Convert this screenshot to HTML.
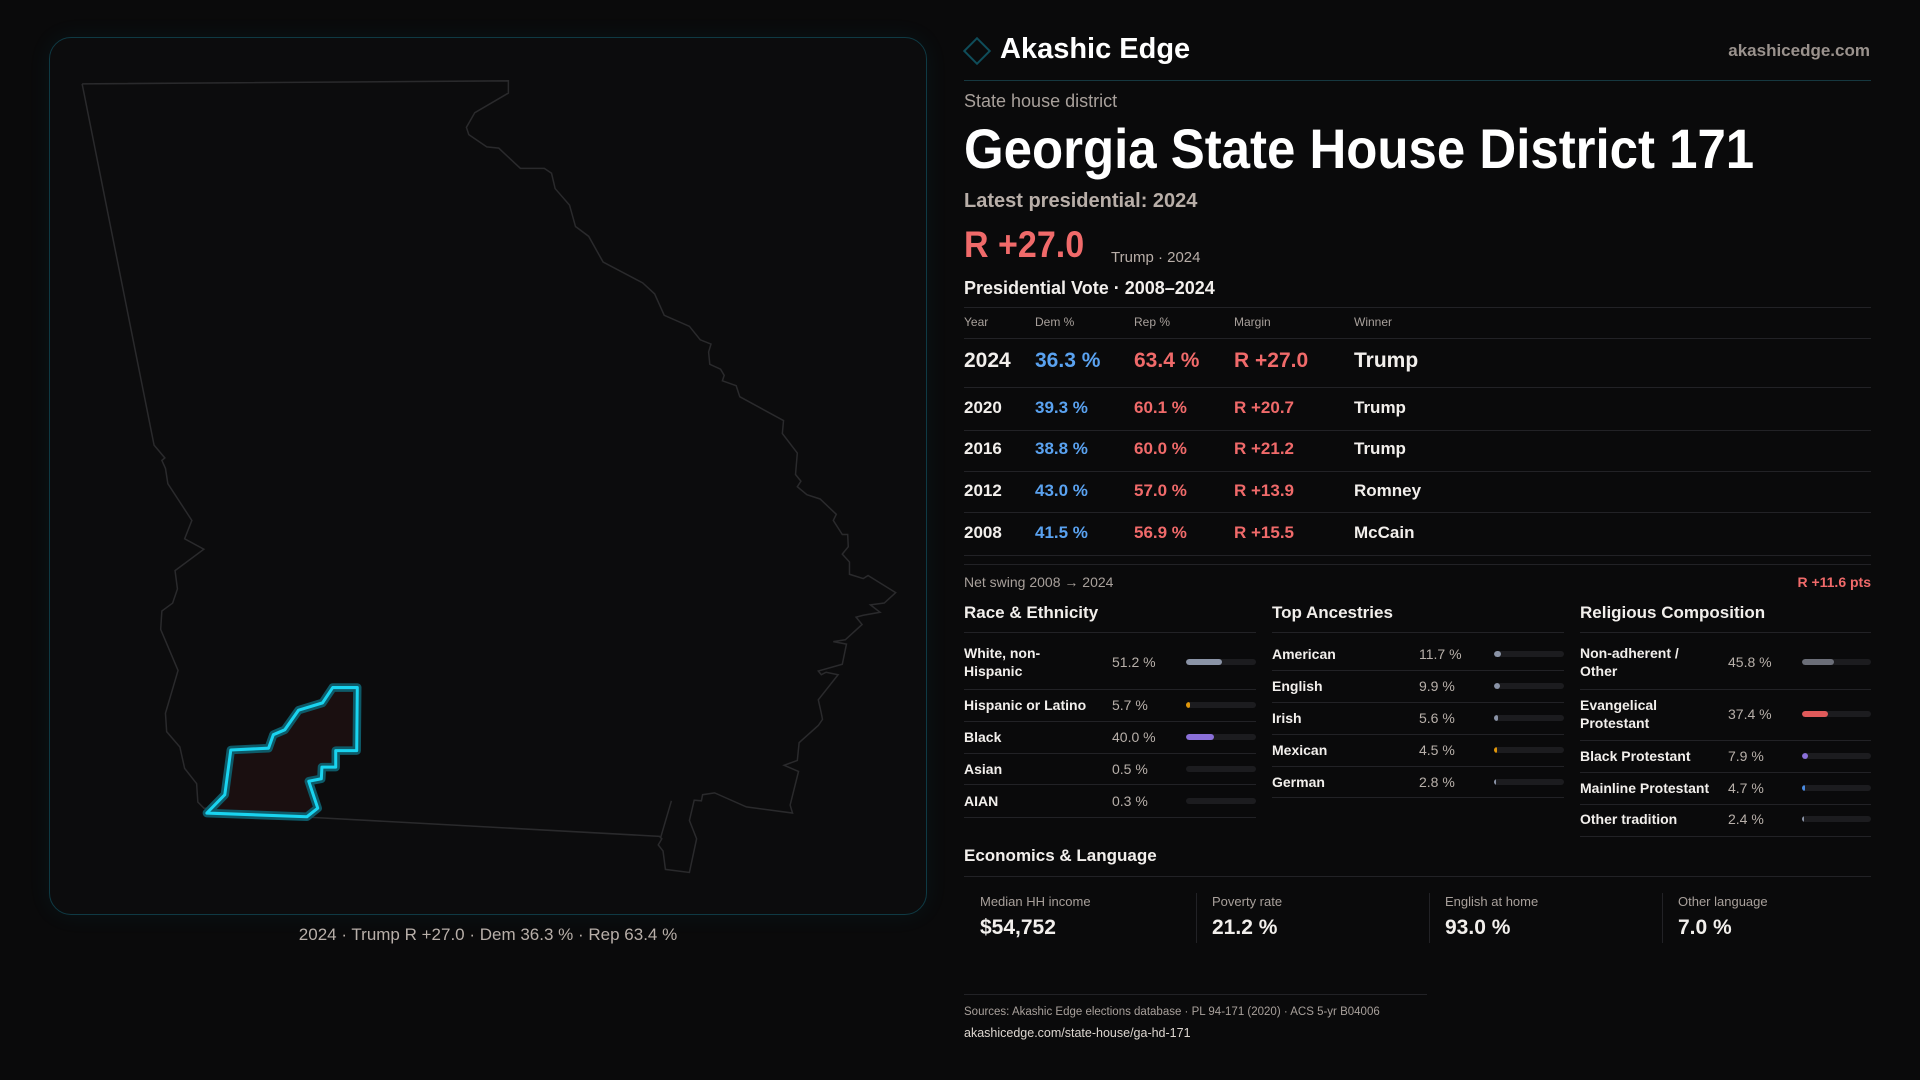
<!DOCTYPE html>
<html><head><meta charset="utf-8"><style>
*{margin:0;padding:0;box-sizing:border-box}
body{width:1920px;height:1080px;background:#0a0a0b;font-family:"Liberation Sans",sans-serif;color:#f2efec;position:relative;overflow:hidden}
.a{position:absolute;white-space:nowrap}
.panel{position:absolute;left:49px;top:37px;width:878px;height:878px;border:1px solid #0f3a44;border-radius:22px;background:#0c0c0d;box-shadow:0 0 24px rgba(0,170,200,0.07)}
.hl{position:absolute;height:1px;background:#222226}
.g{color:#a8a09b}
.r{color:#f06a6a}.b{color:#5aa2f0}
.row{font-size:17px;font-weight:bold;transform:translateY(-50%)}
.lab{font-size:14px;font-weight:bold;line-height:18px;transform:translateY(-50%)}
.val{font-size:14px;color:#b8b0aa;transform:translateY(-50%)}
.trk{position:absolute;height:6px;border-radius:3px;background:#1c1c1f;overflow:hidden}
.trk i{display:block;height:6px;border-radius:3px}
</style></head><body>
<div class="panel"></div>
<svg class="a" style="left:0;top:0" width="940" height="960" viewBox="0 0 1568 1568" preserveAspectRatio="none">
<polyline fill="none" stroke="#2a2a2c" stroke-width="2.5" points="137,137 848,132 848,152 792,184 778,208 782,220 812,240 832,242 868,275 908,275 920,283 926,308 950,335 960,370 982,386 1006,428 1072,462 1092,480 1108,515 1150,533 1168,555 1186,562 1182,575 1184,595 1202,603 1208,613 1205,622 1228,630 1234,648 1307,687 1305,708 1330,740 1327,775 1336,786 1330,795 1346,808 1368,815 1395,840 1390,850 1405,873 1414,873 1415,893 1405,905 1417,918 1417,938 1440,945 1448,940 1494,968 1475,985 1452,988 1468,1000 1440,1005 1428,1008 1438,1020 1410,1045 1390,1048 1412,1052 1405,1085 1365,1096 1370,1102 1378,1098 1398,1102 1365,1143 1370,1165 1372,1175 1365,1185 1333,1213 1330,1242 1308,1250 1332,1260 1318,1315 1322,1328 1245,1318 1192,1295 1172,1298 1170,1308 1158,1307 1150,1340 1162,1370 1150,1425 1110,1420 1106,1390 1098,1380 1104,1370 1100,1366 520,1335 340,1320 330,1310 328,1280 308,1255 300,1220 278,1195 276,1165 297,1095 268,1028 270,998 288,985 296,962 292,932 340,897 308,880 320,850 280,790 276,765 270,752 275,748 257,727 137,137"/>
<line x1="1120" y1="1308" x2="1102" y2="1368" stroke="#2a2a2c" stroke-width="2.5"/>
<polygon fill="#1a0f10" stroke="#0e5a68" stroke-width="14" stroke-linejoin="round" points="555,1123 596,1123 595,1226 560,1226 560,1253 537,1253 536,1272 515,1276 530,1320 512,1334 345,1328 375,1298 385,1225 448,1222 456,1200 475,1192 498,1160 538,1148"/>
<polygon fill="none" stroke="#19d4f0" stroke-width="5" stroke-linejoin="round" points="555,1123 596,1123 595,1226 560,1226 560,1253 537,1253 536,1272 515,1276 530,1320 512,1334 345,1328 375,1298 385,1225 448,1222 456,1200 475,1192 498,1160 538,1148"/>
</svg>
<div class="a" style="left:0;width:976px;top:925px;text-align:center;font-size:17px;color:#b8afa9">2024 · Trump R +27.0 · Dem 36.3 % · Rep 63.4 %</div>

<div class="a" style="left:967px;top:41px;width:20px;height:20px;border:2px solid #0f4d5a;transform:rotate(45deg)"></div>
<div class="a" style="left:1000px;top:33px;font-size:29px;font-weight:bold;color:#fff">Akashic Edge</div>
<div class="a" style="right:50px;top:41px;font-size:17px;font-weight:bold;color:#9a928d">akashicedge.com</div>
<div class="hl" style="left:964px;width:907px;top:80px;background:#163840"></div>
<div class="a g" style="left:964px;top:91px;font-size:18px">State house district</div>
<div class="a" style="left:964px;top:116px;font-size:56px;font-weight:bold;color:#fff;transform:scaleX(0.91);transform-origin:left">Georgia State House District 171</div>
<div class="a" style="left:964px;top:190px;font-size:20px;font-weight:bold;color:#b8aea8">Latest presidential: 2024</div>
<div class="a r" style="left:964px;top:224px;font-size:37px;font-weight:bold;transform:scaleX(0.92);transform-origin:left">R +27.0</div>
<div class="a" style="left:1111px;top:249px;font-size:15px;color:#b8aea8">Trump · 2024</div>
<div class="a" style="left:964px;top:278px;font-size:18px;font-weight:bold">Presidential Vote · 2008–2024</div>
<div class="hl" style="left:964px;width:907px;top:307px"></div>
<div class="a g" style="left:964px;top:315px;font-size:12px">Year</div>
<div class="a g" style="left:1035px;top:315px;font-size:12px">Dem %</div>
<div class="a g" style="left:1134px;top:315px;font-size:12px">Rep %</div>
<div class="a g" style="left:1234px;top:315px;font-size:12px">Margin</div>
<div class="a g" style="left:1354px;top:315px;font-size:12px">Winner</div>
<div class="hl" style="left:964px;width:907px;top:338px"></div>
<div class="a row" style="left:964px;top:361px;font-size:21px">2024</div>
<div class="a row b" style="left:1035px;top:361px;font-size:21px">36.3 %</div>
<div class="a row r" style="left:1134px;top:361px;font-size:21px">63.4 %</div>
<div class="a row r" style="left:1234px;top:361px;font-size:21px">R +27.0</div>
<div class="a row" style="left:1354px;top:361px;font-size:21px">Trump</div>
<div class="hl" style="left:964px;width:907px;top:387px"></div>
<div class="a row" style="left:964px;top:408px">2020</div><div class="a row b" style="left:1035px;top:408px">39.3 %</div><div class="a row r" style="left:1134px;top:408px">60.1 %</div><div class="a row r" style="left:1234px;top:408px">R +20.7</div><div class="a row" style="left:1354px;top:408px">Trump</div>
<div class="hl" style="left:964px;width:907px;top:430px"></div>
<div class="a row" style="left:964px;top:449px">2016</div><div class="a row b" style="left:1035px;top:449px">38.8 %</div><div class="a row r" style="left:1134px;top:449px">60.0 %</div><div class="a row r" style="left:1234px;top:449px">R +21.2</div><div class="a row" style="left:1354px;top:449px">Trump</div>
<div class="hl" style="left:964px;width:907px;top:471px"></div>
<div class="a row" style="left:964px;top:491px">2012</div><div class="a row b" style="left:1035px;top:491px">43.0 %</div><div class="a row r" style="left:1134px;top:491px">57.0 %</div><div class="a row r" style="left:1234px;top:491px">R +13.9</div><div class="a row" style="left:1354px;top:491px">Romney</div>
<div class="hl" style="left:964px;width:907px;top:512px"></div>
<div class="a row" style="left:964px;top:533px">2008</div><div class="a row b" style="left:1035px;top:533px">41.5 %</div><div class="a row r" style="left:1134px;top:533px">56.9 %</div><div class="a row r" style="left:1234px;top:533px">R +15.5</div><div class="a row" style="left:1354px;top:533px">McCain</div>
<div class="hl" style="left:964px;width:907px;top:555px"></div>
<div class="hl" style="left:964px;width:907px;top:564px"></div>
<div class="a g" style="left:964px;top:574px;font-size:14px">Net swing 2008 → 2024</div>
<div class="a r" style="right:49px;top:574px;font-size:14px;font-weight:bold">R +11.6 pts</div>

<div class="a" style="left:964px;top:603px;font-size:17px;font-weight:bold">Race &amp; Ethnicity</div>
<div class="a" style="left:1272px;top:603px;font-size:17px;font-weight:bold">Top Ancestries</div>
<div class="a" style="left:1580px;top:603px;font-size:17px;font-weight:bold">Religious Composition</div>
<div class="hl" style="left:964px;width:292px;top:632px"></div><div class="hl" style="left:1272px;width:292px;top:632px"></div><div class="hl" style="left:1580px;width:291px;top:632px"></div>

<div class="a lab" style="left:964px;top:662px">White, non-<br>Hispanic</div><div class="a val" style="left:1112px;top:662px">51.2 %</div><div class="trk" style="left:1186px;top:659px;width:70px"><i style="width:36px;background:#8a93a6"></i></div>
<div class="hl" style="left:964px;width:292px;top:689px"></div>
<div class="a lab" style="left:964px;top:705px">Hispanic or Latino</div><div class="a val" style="left:1112px;top:705px">5.7 %</div><div class="trk" style="left:1186px;top:702px;width:70px"><i style="width:4px;background:#e0960a"></i></div>
<div class="hl" style="left:964px;width:292px;top:721px"></div>
<div class="a lab" style="left:964px;top:737px">Black</div><div class="a val" style="left:1112px;top:737px">40.0 %</div><div class="trk" style="left:1186px;top:734px;width:70px"><i style="width:28px;background:#8a6fd8"></i></div>
<div class="hl" style="left:964px;width:292px;top:753px"></div>
<div class="a lab" style="left:964px;top:769px">Asian</div><div class="a val" style="left:1112px;top:769px">0.5 %</div><div class="trk" style="left:1186px;top:766px;width:70px"></div>
<div class="hl" style="left:964px;width:292px;top:784px"></div>
<div class="a lab" style="left:964px;top:801px">AIAN</div><div class="a val" style="left:1112px;top:801px">0.3 %</div><div class="trk" style="left:1186px;top:798px;width:70px"></div>
<div class="hl" style="left:964px;width:292px;top:817px"></div>

<div class="a lab" style="left:1272px;top:654px">American</div><div class="a val" style="left:1419px;top:654px">11.7 %</div><div class="trk" style="left:1494px;top:651px;width:70px"><i style="width:7px;background:#8a93a6"></i></div>
<div class="hl" style="left:1272px;width:292px;top:670px"></div>
<div class="a lab" style="left:1272px;top:686px">English</div><div class="a val" style="left:1419px;top:686px">9.9 %</div><div class="trk" style="left:1494px;top:683px;width:70px"><i style="width:6px;background:#8a93a6"></i></div>
<div class="hl" style="left:1272px;width:292px;top:702px"></div>
<div class="a lab" style="left:1272px;top:718px">Irish</div><div class="a val" style="left:1419px;top:718px">5.6 %</div><div class="trk" style="left:1494px;top:715px;width:70px"><i style="width:4px;background:#8a93a6"></i></div>
<div class="hl" style="left:1272px;width:292px;top:734px"></div>
<div class="a lab" style="left:1272px;top:750px">Mexican</div><div class="a val" style="left:1419px;top:750px">4.5 %</div><div class="trk" style="left:1494px;top:747px;width:70px"><i style="width:3px;background:#e0960a"></i></div>
<div class="hl" style="left:1272px;width:292px;top:766px"></div>
<div class="a lab" style="left:1272px;top:782px">German</div><div class="a val" style="left:1419px;top:782px">2.8 %</div><div class="trk" style="left:1494px;top:779px;width:70px"><i style="width:2px;background:#8a93a6"></i></div>
<div class="hl" style="left:1272px;width:292px;top:797px"></div>

<div class="a lab" style="left:1580px;top:662px">Non-adherent /<br>Other</div><div class="a val" style="left:1728px;top:662px">45.8 %</div><div class="trk" style="left:1802px;top:659px;width:69px"><i style="width:32px;background:#6b6e78"></i></div>
<div class="hl" style="left:1580px;width:291px;top:689px"></div>
<div class="a lab" style="left:1580px;top:714px">Evangelical<br>Protestant</div><div class="a val" style="left:1728px;top:714px">37.4 %</div><div class="trk" style="left:1802px;top:711px;width:69px"><i style="width:26px;background:#e05a5a"></i></div>
<div class="hl" style="left:1580px;width:291px;top:740px"></div>
<div class="a lab" style="left:1580px;top:756px">Black Protestant</div><div class="a val" style="left:1728px;top:756px">7.9 %</div><div class="trk" style="left:1802px;top:753px;width:69px"><i style="width:6px;background:#8a6fd8"></i></div>
<div class="hl" style="left:1580px;width:291px;top:772px"></div>
<div class="a lab" style="left:1580px;top:788px">Mainline Protestant</div><div class="a val" style="left:1728px;top:788px">4.7 %</div><div class="trk" style="left:1802px;top:785px;width:69px"><i style="width:3px;background:#4a8ae0"></i></div>
<div class="hl" style="left:1580px;width:291px;top:804px"></div>
<div class="a lab" style="left:1580px;top:819px">Other tradition</div><div class="a val" style="left:1728px;top:819px">2.4 %</div><div class="trk" style="left:1802px;top:816px;width:69px"><i style="width:2px;background:#8a93a6"></i></div>
<div class="hl" style="left:1580px;width:291px;top:836px"></div>

<div class="a" style="left:964px;top:846px;font-size:17px;font-weight:bold">Economics &amp; Language</div>
<div class="hl" style="left:964px;width:907px;top:876px"></div>
<div class="a" style="left:1196px;top:893px;width:1px;height:50px;background:#222226"></div>
<div class="a" style="left:1429px;top:893px;width:1px;height:50px;background:#222226"></div>
<div class="a" style="left:1662px;top:893px;width:1px;height:50px;background:#222226"></div>
<div class="a g" style="left:980px;top:894px;font-size:13px">Median HH income</div><div class="a" style="left:980px;top:916px;font-size:21px;font-weight:bold">$54,752</div>
<div class="a g" style="left:1212px;top:894px;font-size:13px">Poverty rate</div><div class="a" style="left:1212px;top:916px;font-size:21px;font-weight:bold">21.2 %</div>
<div class="a g" style="left:1445px;top:894px;font-size:13px">English at home</div><div class="a" style="left:1445px;top:916px;font-size:21px;font-weight:bold">93.0 %</div>
<div class="a g" style="left:1678px;top:894px;font-size:13px">Other language</div><div class="a" style="left:1678px;top:916px;font-size:21px;font-weight:bold">7.0 %</div>

<div class="hl" style="left:964px;width:463px;top:994px"></div>
<div class="a g" style="left:964px;top:1006px;font-size:11.5px">Sources: Akashic Edge elections database · PL 94-171 (2020) · ACS 5-yr B04006</div>
<div class="a" style="left:964px;top:1026px;font-size:12.5px;color:#ddd6d0">akashicedge.com/state-house/ga-hd-171</div>
</body></html>
